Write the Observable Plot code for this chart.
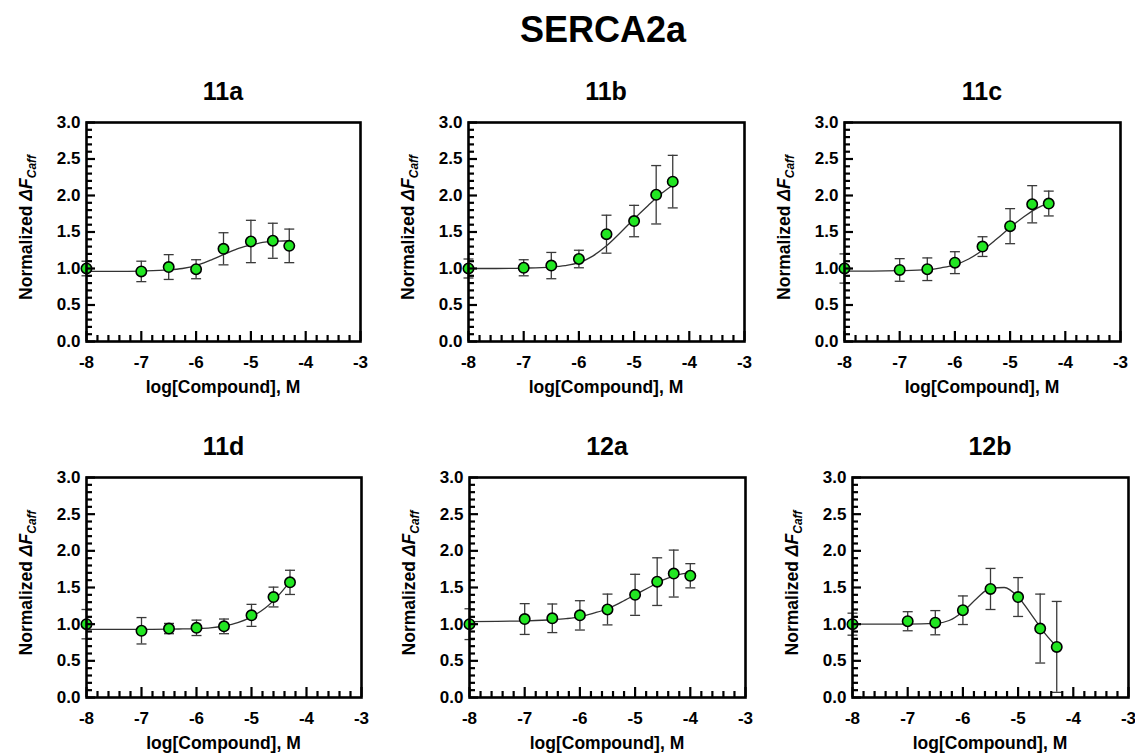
<!DOCTYPE html>
<html><head><meta charset="utf-8">
<script src="https://cdn.jsdelivr.net/npm/d3@7"></script>
<script src="https://cdn.jsdelivr.net/npm/@observablehq/plot@0.6"></script>
<style>
body{margin:0;background:#fff;}
#root{position:relative;width:1135px;height:753px;overflow:hidden;background:#fff;}
</style></head><body><div id="root"></div>
<script>
// ---- data ----
const mainTitle = "SERCA2a";
const panelNames = ["11a","11b","11c","11d","12a","12b"];
const xLabel = "log[Compound], M";
const xTickValues = [-8,-7,-6,-5,-4,-3];
const yTickValues = [0,0.5,1,1.5,2,2.5,3];

const conc8 = [-8,-7,-6.5,-6,-5.5,-5,-4.6,-4.3];
const conc9 = [-8,-7,-6.5,-6,-5.5,-5,-4.6,-4.3,-4.0];

const y11a = [1.00,0.96,1.02,0.99,1.27,1.37,1.38,1.31];
const e11a = [0.10,0.14,0.17,0.13,0.22,0.29,0.24,0.23];
const y11b = [1.00,1.01,1.04,1.13,1.47,1.65,2.01,2.19];
const e11b = [0.13,0.11,0.18,0.12,0.26,0.215,0.40,0.36];
const y11c = [1.00,0.98,0.99,1.08,1.30,1.58,1.88,1.89];
const e11c = [0.20,0.155,0.155,0.15,0.135,0.24,0.255,0.17];
const y11d = [1.00,0.91,0.94,0.95,0.97,1.12,1.37,1.57];
const e11d = [0.20,0.18,0.07,0.105,0.10,0.15,0.135,0.165];
const y12a = [1.00,1.07,1.08,1.12,1.20,1.40,1.58,1.69,1.66];
const e12a = [0.21,0.21,0.195,0.20,0.21,0.28,0.325,0.32,0.165];
const y12b = [1.00,1.04,1.02,1.19,1.48,1.37,0.94,0.69];
const e12b = [0.15,0.13,0.165,0.195,0.28,0.265,0.47,0.62];

// fitted curves
const curveX = [-8,-7.5,-7,-6.5,-6.25,-6,-5.75,-5.5,-5.25,-5,-4.75,-4.5,-4.3];
const curveX12a = [-8,-7.5,-7,-6.5,-6.25,-6,-5.75,-5.5,-5.25,-5,-4.75,-4.5,-4.3,-4.15,-4.0];
const c11a = [0.96,0.96,0.965,0.98,1.00,1.04,1.11,1.19,1.27,1.32,1.36,1.375,1.38];
const c11b = [1.00,1.00,1.005,1.02,1.04,1.08,1.17,1.31,1.49,1.68,1.86,2.03,2.14];
const c11c = [0.965,0.965,0.97,0.985,1.01,1.05,1.13,1.25,1.40,1.56,1.71,1.83,1.90];
const c11d = [0.93,0.93,0.93,0.932,0.935,0.94,0.95,0.975,1.02,1.10,1.22,1.40,1.58];
const c12a = [1.035,1.038,1.045,1.06,1.075,1.10,1.15,1.21,1.30,1.40,1.50,1.60,1.655,1.685,1.70];
const c12b = [1.00,1.00,1.00,1.01,1.05,1.17,1.35,1.49,1.50,1.37,1.12,0.86,0.69];

// ---- layout ----
const layout = [
  {L:86,  R:360,  T:122, B:341},
  {L:468, R:744,  T:122, B:341},
  {L:844, R:1120, T:122, B:341},
  {L:86,  R:361,  T:477, B:697},
  {L:469, R:745,  T:477, B:697},
  {L:852, R:1128, T:477, B:697}
];
const series = [
  {x:conc8, y:y11a, e:e11a, cx:curveX, cy:c11a},
  {x:conc8, y:y11b, e:e11b, cx:curveX, cy:c11b},
  {x:conc8, y:y11c, e:e11c, cx:curveX, cy:c11c},
  {x:conc8, y:y11d, e:e11d, cx:curveX, cy:c11d},
  {x:conc9, y:y12a, e:e12a, cx:curveX12a, cy:c12a},
  {x:conc8, y:y12b, e:e12b, cx:curveX, cy:c12b}
];

const FONT = '"Liberation Sans", Arial, Helvetica, sans-serif';
const GREEN = "#22e622";
const INK = "#000";
const xMinor = d3.range(-8, -3.001, 0.2).filter(v => Math.abs(v - Math.round(v)) > 1e-6);
const yMinor = d3.range(0, 3.001, 0.1).filter(v => Math.abs(v*2 - Math.round(v*2)) > 1e-6);

const capSym = {draw(ctx){ ctx.moveTo(-5,0); ctx.lineTo(5,0); }};

const root = document.getElementById("root");

// ---- text layer (placed underneath the plots) ----
const ov = d3.select(root).append("svg")
  .attr("width", 1135).attr("height", 753)
  .style("position", "absolute").style("left", 0).style("top", 0)
  .attr("font-family", FONT).attr("font-weight", "bold").attr("fill", "black");

ov.append("text").attr("x", 603).attr("y", 42).attr("text-anchor", "middle")
  .attr("font-size", 36).text(mainTitle);

layout.forEach((p, i) => {
  const cx = (p.L + p.R) / 2;
  ov.append("text").attr("x", cx).attr("y", p.T - 22).attr("text-anchor", "middle")
    .attr("font-size", 25).text(panelNames[i]);
  ov.append("text").attr("x", cx).attr("y", p.B + 52).attr("text-anchor", "middle")
    .attr("font-size", 17.5).text(xLabel);
  const yl = ov.append("text")
    .attr("transform", `translate(${p.L - 54},${(p.T + p.B) / 2 - 4}) rotate(-90)`)
    .attr("text-anchor", "middle").attr("font-size", 17.5);
  yl.append("tspan").text("Normalized ");
  yl.append("tspan").attr("font-style", "italic").text("ΔF");
  yl.append("tspan").attr("font-style", "italic").attr("font-size", 12).attr("dy", 4).text("Caff");
});

// ---- panels ----
const ML = 50, MR = 10, MT = 10, MB = 30;
layout.forEach((p, i) => {
  const s = series[i];
  const pw = p.R - p.L, ph = p.B - p.T;
  const rows = s.x.map((x, k) => ({x, y: s.y[k], lo: Math.max(0.02, s.y[k] - s.e[k]), hi: s.y[k] + s.e[k]}));
  const curve = s.cx.map((x, k) => ({x, y: s.cy[k]}));
  const svg = Plot.plot({
    width: pw + ML + MR,
    height: ph + MT + MB,
    marginLeft: ML, marginRight: MR, marginTop: MT, marginBottom: MB,
    x: {domain: [-8, -3]},
    y: {domain: [0, 3]},
    style: {fontFamily: FONT, background: "transparent", overflow: "visible"},
    marks: [
      Plot.line(curve, {x: "x", y: "y", curve: "monotone-x", stroke: "#333", strokeWidth: 1.3}),
      Plot.ruleX(rows, {x: "x", y1: "lo", y2: "hi", stroke: "#3a3a3a", strokeWidth: 1.3}),
      Plot.dot(rows, {x: "x", y: "hi", symbol: capSym, stroke: "#3a3a3a", fill: "none", strokeWidth: 1.3}),
      Plot.dot(rows, {x: "x", y: "lo", symbol: capSym, stroke: "#3a3a3a", fill: "none", strokeWidth: 1.3}),
      Plot.dot(rows, {x: "x", y: "y", r: 5.2, fill: GREEN, stroke: INK, strokeWidth: 1.6}),
      Plot.ruleX(xMinor, {x: d => d, insetTop: ph - 6, stroke: INK, strokeWidth: 2.2}),
      Plot.ruleX(xTickValues, {x: d => d, insetTop: ph - 10, stroke: INK, strokeWidth: 2.2}),
      Plot.ruleY(yMinor, {y: d => d, insetRight: pw - 6, stroke: INK, strokeWidth: 2.2}),
      Plot.ruleY(yTickValues, {y: d => d, insetRight: pw - 9, stroke: INK, strokeWidth: 2.2}),
      Plot.frame({stroke: INK, strokeWidth: 2.6}),
      Plot.axisX({ticks: xTickValues, tickSize: 0, tickPadding: 14, tickFormat: d => String(d), fontSize: 17, fontWeight: "bold", fill: INK, label: null}),
      Plot.axisY({ticks: yTickValues, tickSize: 0, tickPadding: 6, tickFormat: d3.format(".1f"), fontSize: 17, fontWeight: "bold", fill: INK, label: null})
    ]
  });
  svg.style.position = "absolute";
  svg.style.left = (p.L - ML) + "px";
  svg.style.top = (p.T - MT) + "px";
  root.appendChild(svg);
});
</script></body></html>
